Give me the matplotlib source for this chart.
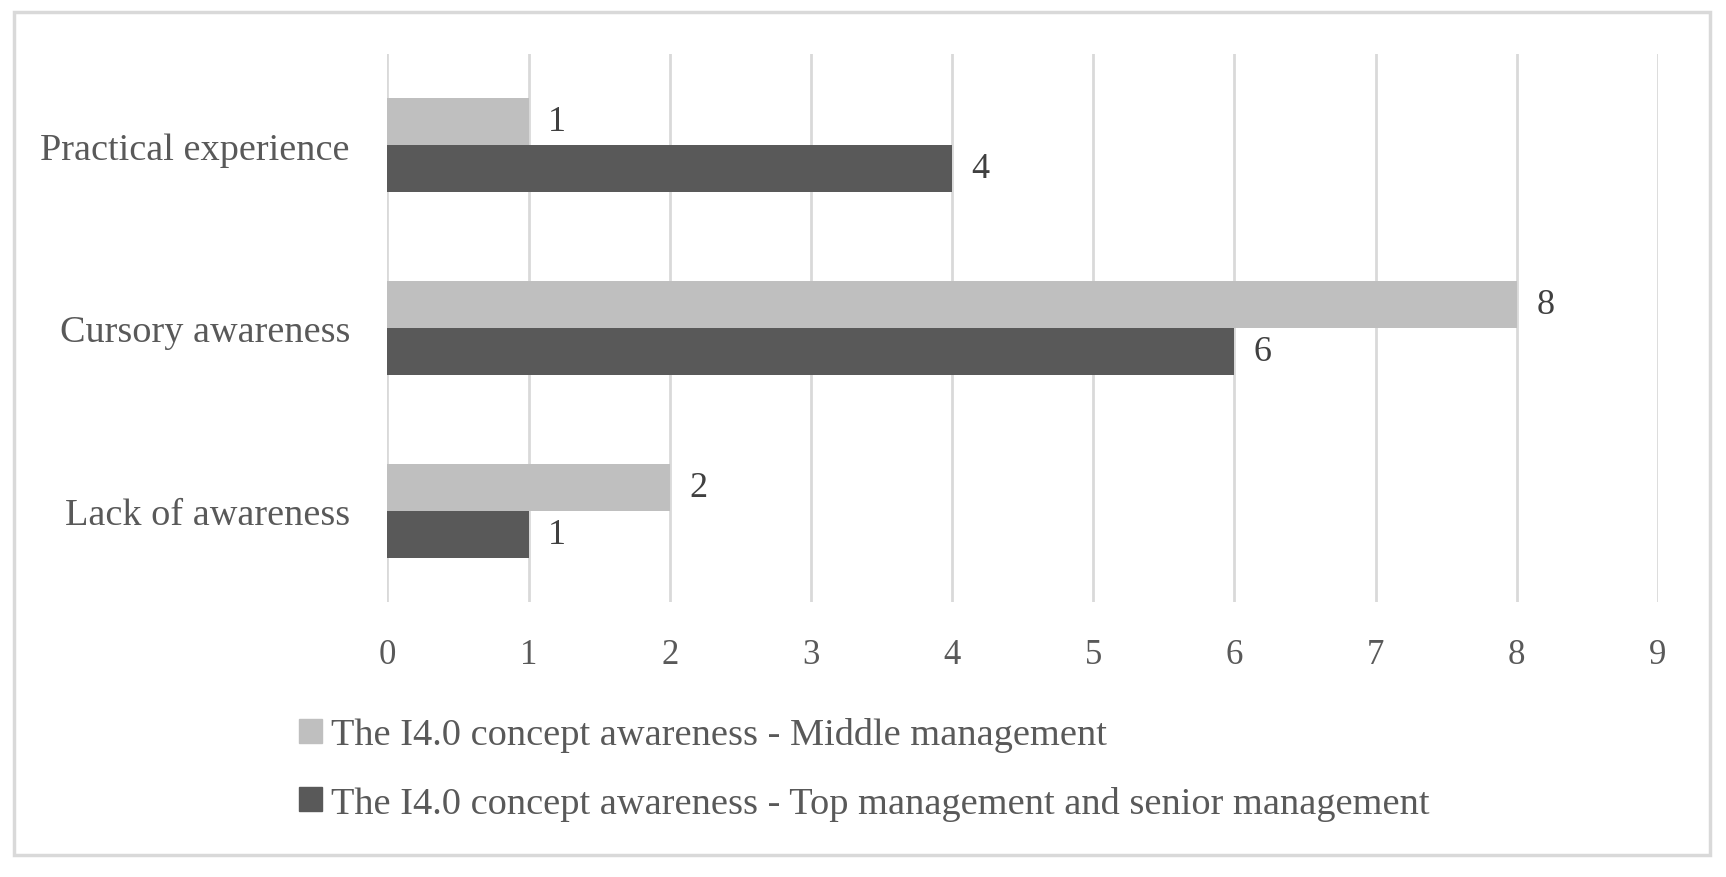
import matplotlib
matplotlib.use("Agg")
import matplotlib.pyplot as plt
from matplotlib.patches import Rectangle, Patch
import numpy as np

categories = ["Lack of awareness", "Cursory awareness", "Practical experience"]
middle_mgmt = [2, 8, 1]
top_mgmt = [1, 6, 4]
series_names = ["The I4.0 concept awareness - Middle management",
                "The I4.0 concept awareness - Top management and senior management"]
x_ticks = list(range(0, 10))

light = "#BFBFBF"
dark = "#595959"
txt = "#595959"
grid = "#D9D9D9"

plt.rcParams["font.family"] = ["Liberation Serif", "DejaVu Serif"]

fig = plt.figure(figsize=(17.26, 8.78), dpi=100)
ax = fig.add_axes([0.2245, 0.3132, 0.9606 - 0.2245, 0.9374 - 0.3132])

y = np.arange(len(categories))
h = 0.257
b1 = ax.barh(y + h / 2, middle_mgmt, height=h, color=light, zorder=3)
b2 = ax.barh(y - h / 2, top_mgmt, height=h, color=dark, zorder=3)
ax.bar_label(b1, padding=14, fontsize=26, color="#404040")
ax.bar_label(b2, padding=14, fontsize=26, color="#404040")

ax.set_xlim(0, 9)
ax.set_ylim(-0.5, 2.5)
ax.set_xticks(x_ticks)
ax.set_yticks(y)
ax.set_yticklabels(categories)
ax.tick_params(axis="both", length=0, labelsize=25, colors=txt)
ax.tick_params(axis="y", pad=27, labelsize=27.5)
ax.tick_params(axis="x", pad=26)
ax.xaxis.grid(True, color=grid, linewidth=2, zorder=0)
for s in ax.spines.values():
    s.set_visible(False)

handles = [Patch(color=light), Patch(color=dark)]
fig.legend(handles, series_names, loc="upper left",
           bbox_to_anchor=(0.1535, 0.221), frameon=False, fontsize=27.6,
           labelcolor=txt, handlelength=0.6, handleheight=0.6,
           handletextpad=0.22, labelspacing=0.87)

fig.add_artist(Rectangle((14 / 1726, 1 - 856 / 878), (1710 - 14) / 1726,
                         (856 - 13) / 878, transform=fig.transFigure,
                         fill=False, edgecolor=grid, linewidth=2.5))

fig.savefig("out.png", dpi=100, facecolor="white")
